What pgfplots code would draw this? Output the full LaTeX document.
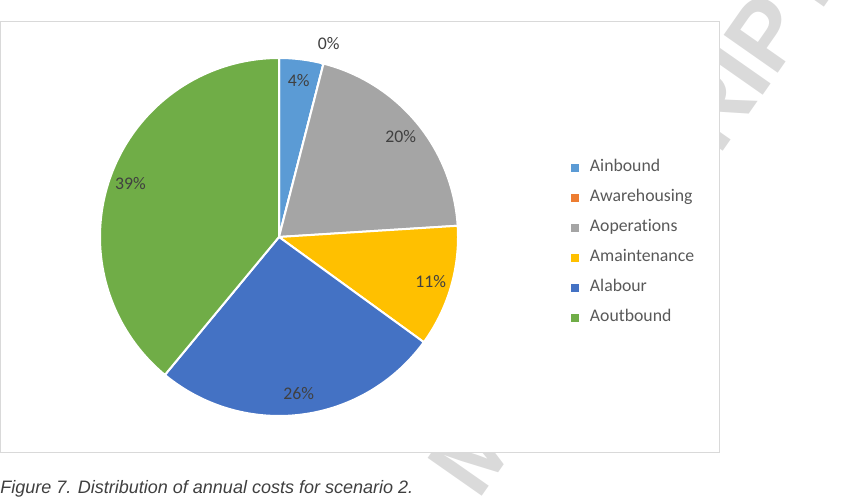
\documentclass[border=0pt]{standalone}
\usepackage{fontspec}
\setmainfont{Carlito}[Ligatures=NoCommon]
\newfontfamily\arialfont{Liberation Sans}
\usepackage{pgfplots}
\usepackage{pgfplotstable}
\pgfplotsset{compat=1.18}

% Office palette
\definecolor{cA}{HTML}{5B9BD5}
\definecolor{cB}{HTML}{ED7D31}
\definecolor{cC}{HTML}{A5A5A5}
\definecolor{cD}{HTML}{FFC000}
\definecolor{cE}{HTML}{4472C4}
\definecolor{cF}{HTML}{70AD47}
\definecolor{labcol}{HTML}{404040}
\definecolor{legcol}{HTML}{595959}
\definecolor{framecol}{HTML}{D9D9D9}
\definecolor{capcol}{HTML}{3F3F3F}
\definecolor{wm}{HTML}{DADADA}

% Annual cost shares (percent), scenario 2
\pgfplotstableread{
name         value colour
Ainbound     4     cA
Awarehousing 0     cB
Aoperations  20    cC
Amaintenance 11    cD
Alabour      26    cE
Aoutbound    39    cF
}\costs

\tikzset{pielabel/.style={text=labcol, font=\fontsize{13.3}{16}\selectfont, inner sep=0pt}}

\begin{document}
\begin{tikzpicture}[x=0.75pt, y=0.75pt]
\useasboundingbox (0,0) rectangle (849,498);

% watermark behind the chart area
\begin{scope}
  \clip (0,0) rectangle (849,498);
  \node[rotate=55, anchor=base west, text=wm, inner sep=0pt,
        font=\arialfont\bfseries\fontsize{72}{72}\selectfont] at (478,-4) {\llap{ACCEPTED }MANUSCRIPT};
\end{scope}

% chart area
\draw[draw=framecol, line width=0.75pt, fill=white] (0.5,45) rectangle (719,476);

% caption
\node[anchor=base west, inner sep=0pt, text=capcol,
      font=\arialfont\itshape\fontsize{13.5}{16}\selectfont] at (0,4)
      {Figure 7. Distribution of annual costs for scenario 2.};

\begin{axis}[
  at={(0,0)}, anchor=south west,
  width=636.75pt, height=373.5pt, scale only axis,
  xmin=0, xmax=849, ymin=0, ymax=498,
  hide axis, clip=false,
  legend image code/.code={\path[#1, draw=none] (0pt,-3pt) rectangle (6pt,3pt);},
  legend cell align=left,
  legend style={at={(axis cs:571,339)}, anchor=north west, draw=none, fill=none,
                inner sep=0pt, row sep=10pt, text=legcol,
                font=\fontsize{13.3}{16}\selectfont,
                nodes={inner xsep=8pt, inner ysep=0pt, text height=9.5pt, text depth=3pt}},
]
\def\cum{0}
\pgfplotsforeachungrouped \i in {0,...,5}{%
  \pgfplotstablegetelem{\i}{name}\of\costs \let\nm\pgfplotsretval
  \pgfplotstablegetelem{\i}{value}\of\costs \let\v\pgfplotsretval
  \pgfplotstablegetelem{\i}{colour}\of\costs \let\col\pgfplotsretval
  \pgfmathsetmacro\aS{90-3.6*\cum}
  \pgfmathsetmacro\aE{90-3.6*(\cum+\v)-0.001}
  \pgfmathsetmacro\aM{90-3.6*(\cum+\v/2)}
  \pgfmathsetmacro\rL{\v<1 ? 200 : 158}
  \pgfmathsetmacro\lx{279+\rL*cos(\aM)}
  \pgfmathsetmacro\ly{261+\rL*sin(\aM)}
  \edef\slice{%
    \noexpand\addplot[fill=\col, draw=white, line width=1.5pt,
      domain=\aE:\aS, samples=120, variable=\noexpand\t]
      ({279+179*cos(\noexpand\t)},{261+179*sin(\noexpand\t)}) -- (axis cs:279,261) -- cycle;
    \noexpand\addlegendentry{\nm}
    \noexpand\node[pielabel] at (axis cs:\lx,\ly) {\v\noexpand\%};
  }%
  \slice
  \pgfmathsetmacro\cum{\cum+\v}
}
\end{axis}
\end{tikzpicture}
\end{document}
